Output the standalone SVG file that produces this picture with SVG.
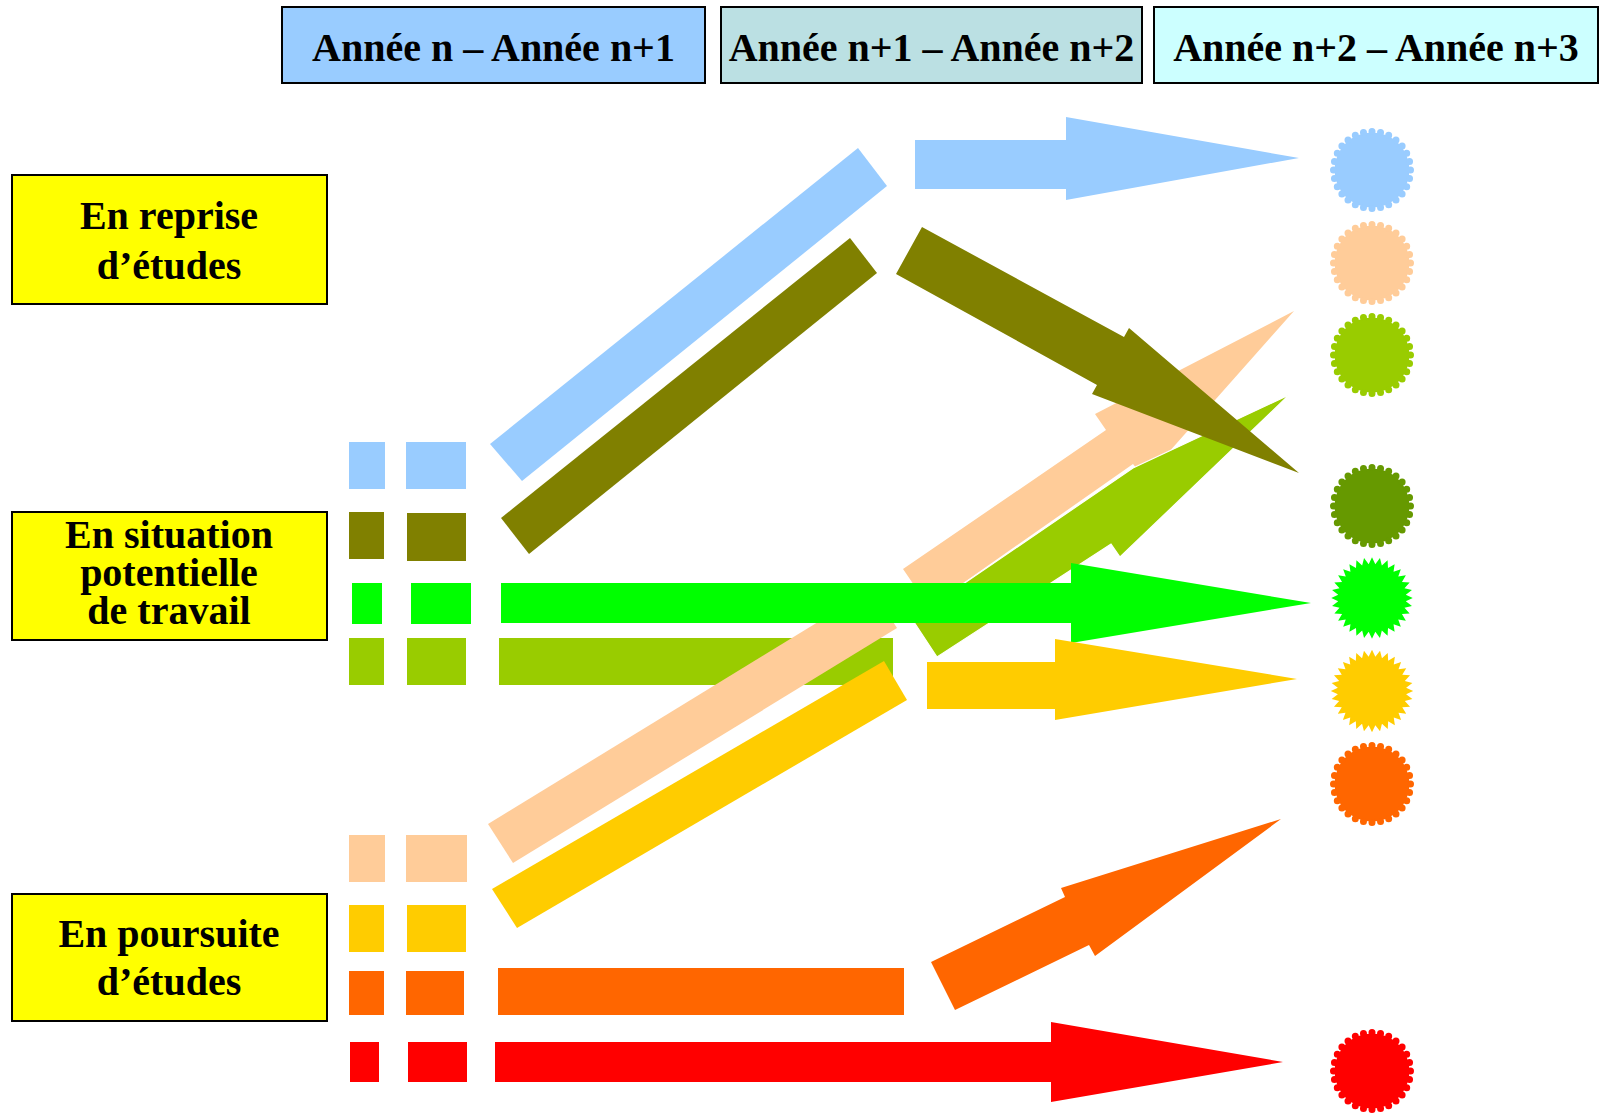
<svg xmlns="http://www.w3.org/2000/svg" xmlns:xlink="http://www.w3.org/1999/xlink" width="1601" height="1114" viewBox="0 0 1601 1114">
<style>
.box{stroke:#000;stroke-width:2}
.lbl{fill:#FFFF00;stroke:#000;stroke-width:2}
text{font-family:"Liberation Serif","Times New Roman",serif;font-weight:bold;font-size:40px;fill:#000;text-anchor:middle}
</style>
<defs>
<polygon id="star" points="42,0 34.83,3.43 41.19,8.19 33.49,10.16 38.8,16.07 30.87,16.5 34.92,23.33 27.06,22.2 29.7,29.7 22.2,27.06 23.33,34.92 16.5,30.87 16.07,38.8 10.16,33.49 8.19,41.19 3.43,34.83 0,42 -3.43,34.83 -8.19,41.19 -10.16,33.49 -16.07,38.8 -16.5,30.87 -23.33,34.92 -22.2,27.06 -29.7,29.7 -27.06,22.2 -34.92,23.33 -30.87,16.5 -38.8,16.07 -33.49,10.16 -41.19,8.19 -34.83,3.43 -42,0 -34.83,-3.43 -41.19,-8.19 -33.49,-10.16 -38.8,-16.07 -30.87,-16.5 -34.92,-23.33 -27.06,-22.2 -29.7,-29.7 -22.2,-27.06 -23.33,-34.92 -16.5,-30.87 -16.07,-38.8 -10.16,-33.49 -8.19,-41.19 -3.43,-34.83 0,-42 3.43,-34.83 8.19,-41.19 10.16,-33.49 16.07,-38.8 16.5,-30.87 23.33,-34.92 22.2,-27.06 29.7,-29.7 27.06,-22.2 34.92,-23.33 30.87,-16.5 38.8,-16.07 33.49,-10.16 41.19,-8.19 34.83,-3.43"/>
<g id="scallop">
<circle r="37.5" stroke="none"/>
<circle r="38.5" fill="none" pathLength="28" stroke-dasharray="0 1" stroke-linecap="round" stroke-width="7"/>
</g>
</defs>

<g id="header-1"><rect class="box" x="282" y="7" width="423" height="76" fill="#99CCFF"/><text x="493.5" y="61">Année n – Année n+1</text></g>
<g id="header-2"><rect class="box" x="721" y="7" width="421" height="76" fill="#BBE0E3"/><text x="931.5" y="61">Année n+1 – Année n+2</text></g>
<g id="header-3"><rect class="box" x="1154" y="7" width="444" height="76" fill="#CCFFFF"/><text x="1376" y="61">Année n+2 – Année n+3</text></g>

<g id="label-reprise"><rect class="lbl" x="12" y="175" width="315" height="129"/><text x="169" y="229">En reprise</text><text x="169" y="279">d’études</text></g>
<g id="label-situation"><rect class="lbl" x="12" y="512" width="315" height="128"/><text x="169" y="548">En situation</text><text x="169" y="586">potentielle</text><text x="169" y="624">de travail</text></g>
<g id="label-poursuite"><rect class="lbl" x="12" y="894" width="315" height="127"/><text x="169" y="947">En poursuite</text><text x="169" y="995">d’études</text></g>

<g id="connectors">
<g fill="#99CCFF"><rect x="349" y="442" width="36" height="47"/><rect x="406" y="442" width="60" height="47"/></g>
<g fill="#808000"><rect x="349" y="512" width="35" height="47"/><rect x="407" y="513" width="59" height="48"/></g>
<g fill="#00FF00"><rect x="352" y="583" width="30" height="41"/><rect x="411" y="583" width="60" height="41"/></g>
<g fill="#99CC00"><rect x="349" y="638" width="35" height="47"/><rect x="407" y="638" width="59" height="47"/></g>
<g fill="#FFCC99"><rect x="349" y="835" width="36" height="47"/><rect x="406" y="835" width="61" height="47"/></g>
<g fill="#FFCC00"><rect x="349" y="905" width="35" height="47"/><rect x="407" y="905" width="59" height="47"/></g>
<g fill="#FF6600"><rect x="349" y="971" width="35" height="44"/><rect x="406" y="971" width="58" height="44"/></g>
<g fill="#FF0000"><rect x="350" y="1042" width="29" height="40"/><rect x="408" y="1042" width="59" height="40"/></g>

<polygon fill="#99CCFF" points="490,444 522,481 887,186 858,148"/>
<polygon fill="#808000" points="501,518 529,554 877,273 850,238"/>
<polygon fill="#99CCFF" points="915,140 1066,140 1066,117 1299,158 1066,200 1066,189 915,189"/>
<rect fill="#99CC00" x="499" y="638" width="394" height="47"/>
<polygon fill="#FFCC99" points="903,569 1106,430 1095,414 1294,311 1145,479 1133,464 929,607"/>
<polygon fill="#99CC00" stroke="#FFFFFF" stroke-width="1.2" points="912,619 1133,468 1289,395 1120,557 1111,544 937,657"/>
<polygon fill="#808000" points="922,227 1124,337 1129,328 1299,473 1092,394 1097,385 896,274"/>
<polygon fill="#FFCC99" points="488,824 513,863 897,628 872,589"/>
<polygon fill="#FFCC00" points="492,889 517,928 907,700 884,661"/>
<polygon fill="#00FF00" points="501,583 1071,583 1071,563 1311,603 1071,643 1071,623 501,623"/>
<polygon fill="#FFCC00" points="927,662 1055,662 1055,639 1297,679 1055,720 1055,709 927,709"/>
<rect fill="#FF6600" x="498" y="968" width="406" height="47"/>
<polygon fill="#FF6600" points="931,962 1065,897 1061,888 1281,819 1095,956 1089,945 955,1010"/>
<polygon fill="#FF0000" points="495,1042 1051,1042 1051,1022 1283,1062 1051,1102 1051,1082 495,1082"/>
</g>

<g id="seal-blue"><use xlink:href="#scallop" href="#scallop" x="1372" y="170" fill="#99CCFF" stroke="#99CCFF"/></g>
<g id="seal-peach"><use xlink:href="#scallop" href="#scallop" x="1372" y="263" fill="#FFCC99" stroke="#FFCC99"/></g>
<g id="seal-yellowgreen"><use xlink:href="#scallop" href="#scallop" x="1372" y="355" fill="#99CC00" stroke="#99CC00"/></g>
<g id="seal-darkgreen"><use xlink:href="#scallop" href="#scallop" x="1372" y="506" fill="#669900" stroke="#669900"/></g>
<g id="seal-green"><use xlink:href="#star" href="#star" transform="translate(1372,598) scale(0.97)" fill="#00FF00"/></g>
<g id="seal-gold"><use xlink:href="#star" href="#star" transform="translate(1372,691) scale(0.98)" fill="#FFCC00"/></g>
<g id="seal-orange"><use xlink:href="#scallop" href="#scallop" x="1372" y="784" fill="#FF6600" stroke="#FF6600"/></g>
<g id="seal-red"><use xlink:href="#scallop" href="#scallop" x="1372" y="1071" fill="#FF0000" stroke="#FF0000"/></g>
</svg>
